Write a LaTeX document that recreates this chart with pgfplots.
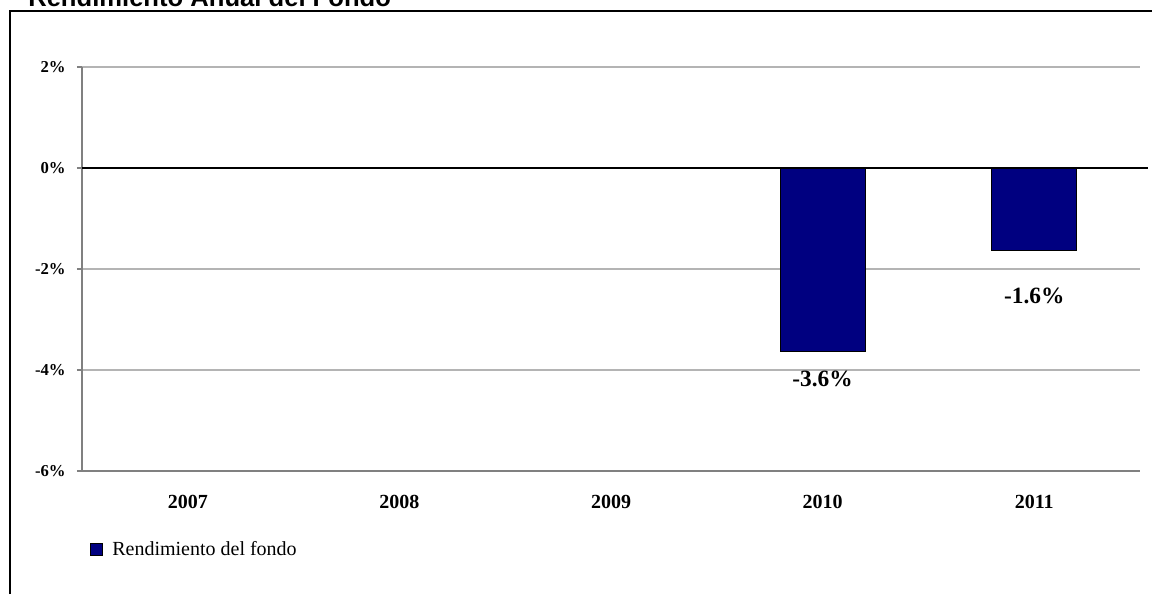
\documentclass[border=0pt]{standalone}
\usepackage{fontspec}
\setmainfont{Liberation Serif}
\newfontfamily\titlefont{Liberation Sans}
\usepackage{pgfplots}
\pgfplotsset{compat=1.18}
\definecolor{fondo}{RGB}{0,0,128}
\definecolor{gridgray}{RGB}{180,180,180}
\definecolor{axisgray}{RGB}{128,128,128}
\begin{document}
\begin{tikzpicture}
  % page: 1152 x 594 px at 0.75pt per px
  \clip (0,0) rectangle (864pt,445.5pt);
  \path[use as bounding box] (0,0) rectangle (864pt,445.5pt);
  % title, cut off at the top as in the original
  \node[anchor=base west, inner sep=0pt, font=\titlefont\bfseries\fontsize{19.2}{22}\selectfont]
    at (21pt,440.25pt) {Rendimiento Anual del Fondo};
  % outer frame (left and top only)
  \draw[black, line width=1.5pt] (7.5pt,0) -- (7.5pt,437.25pt) -- (870pt,437.25pt);
  \begin{axis}[
    at={(61.5pt,92.25pt)}, anchor=south west,
    scale only axis,
    width=793.5pt, height=303pt,
    clip=false,
    ybar,
    bar width=63.75pt,
    xmin=-0.5, xmax=4.5,
    ymin=-6, ymax=2,
    xtick={0,1,2,3,4},
    xticklabels={2007,2008,2009,2010,2011},
    ytick={-6,-4,-2,0,2},
    yticklabels={-6\%,-4\%,-2\%,0\%,2\%},
    axis x line*=bottom,
    axis y line*=left,
    axis line style={draw=axisgray, line width=0.9pt},
    x tick style={draw=none},
    y tick style={draw=axisgray, line width=0.9pt},
    tick align=outside,
    major tick length=3.75pt,
    ymajorgrids,
    grid style={draw=gridgray, line width=0.8pt},
    xticklabel style={font=\bfseries\fontsize{15}{18}\selectfont, yshift=-11pt},
    yticklabel style={font=\bfseries\fontsize{12.5}{14}\selectfont, anchor=east, xshift=-5pt},
    legend style={at={(0.0076,-0.193)}, anchor=west, draw=none, fill=none,
      inner sep=0pt, font=\fontsize{15}{18}\selectfont,
      /tikz/every odd column/.append style={column sep=5pt}},
    legend cell align=left,
    legend image code/.code={
      \draw[black, fill=fondo, line width=0.5pt] (0pt,-4.5pt) rectangle (9pt,4.5pt);},
  ]
    \addplot[fill=fondo, draw=black, line width=0.6pt] coordinates {
      (3,-3.64)
      (4,-1.63)
    };
    \legend{Rendimiento del fondo}
    % zero line
    \draw[black, line width=0.9pt] (axis cs:-0.5,0) -- ([xshift=6pt]axis cs:4.5,0);
    % data labels
    \node[font=\bfseries\fontsize{17.5}{20}\selectfont] at (axis cs:3,-4.18) {-3.6\%};
    \node[font=\bfseries\fontsize{17.5}{20}\selectfont] at (axis cs:4,-2.54) {-1.6\%};
  \end{axis}
\end{tikzpicture}
\end{document}
